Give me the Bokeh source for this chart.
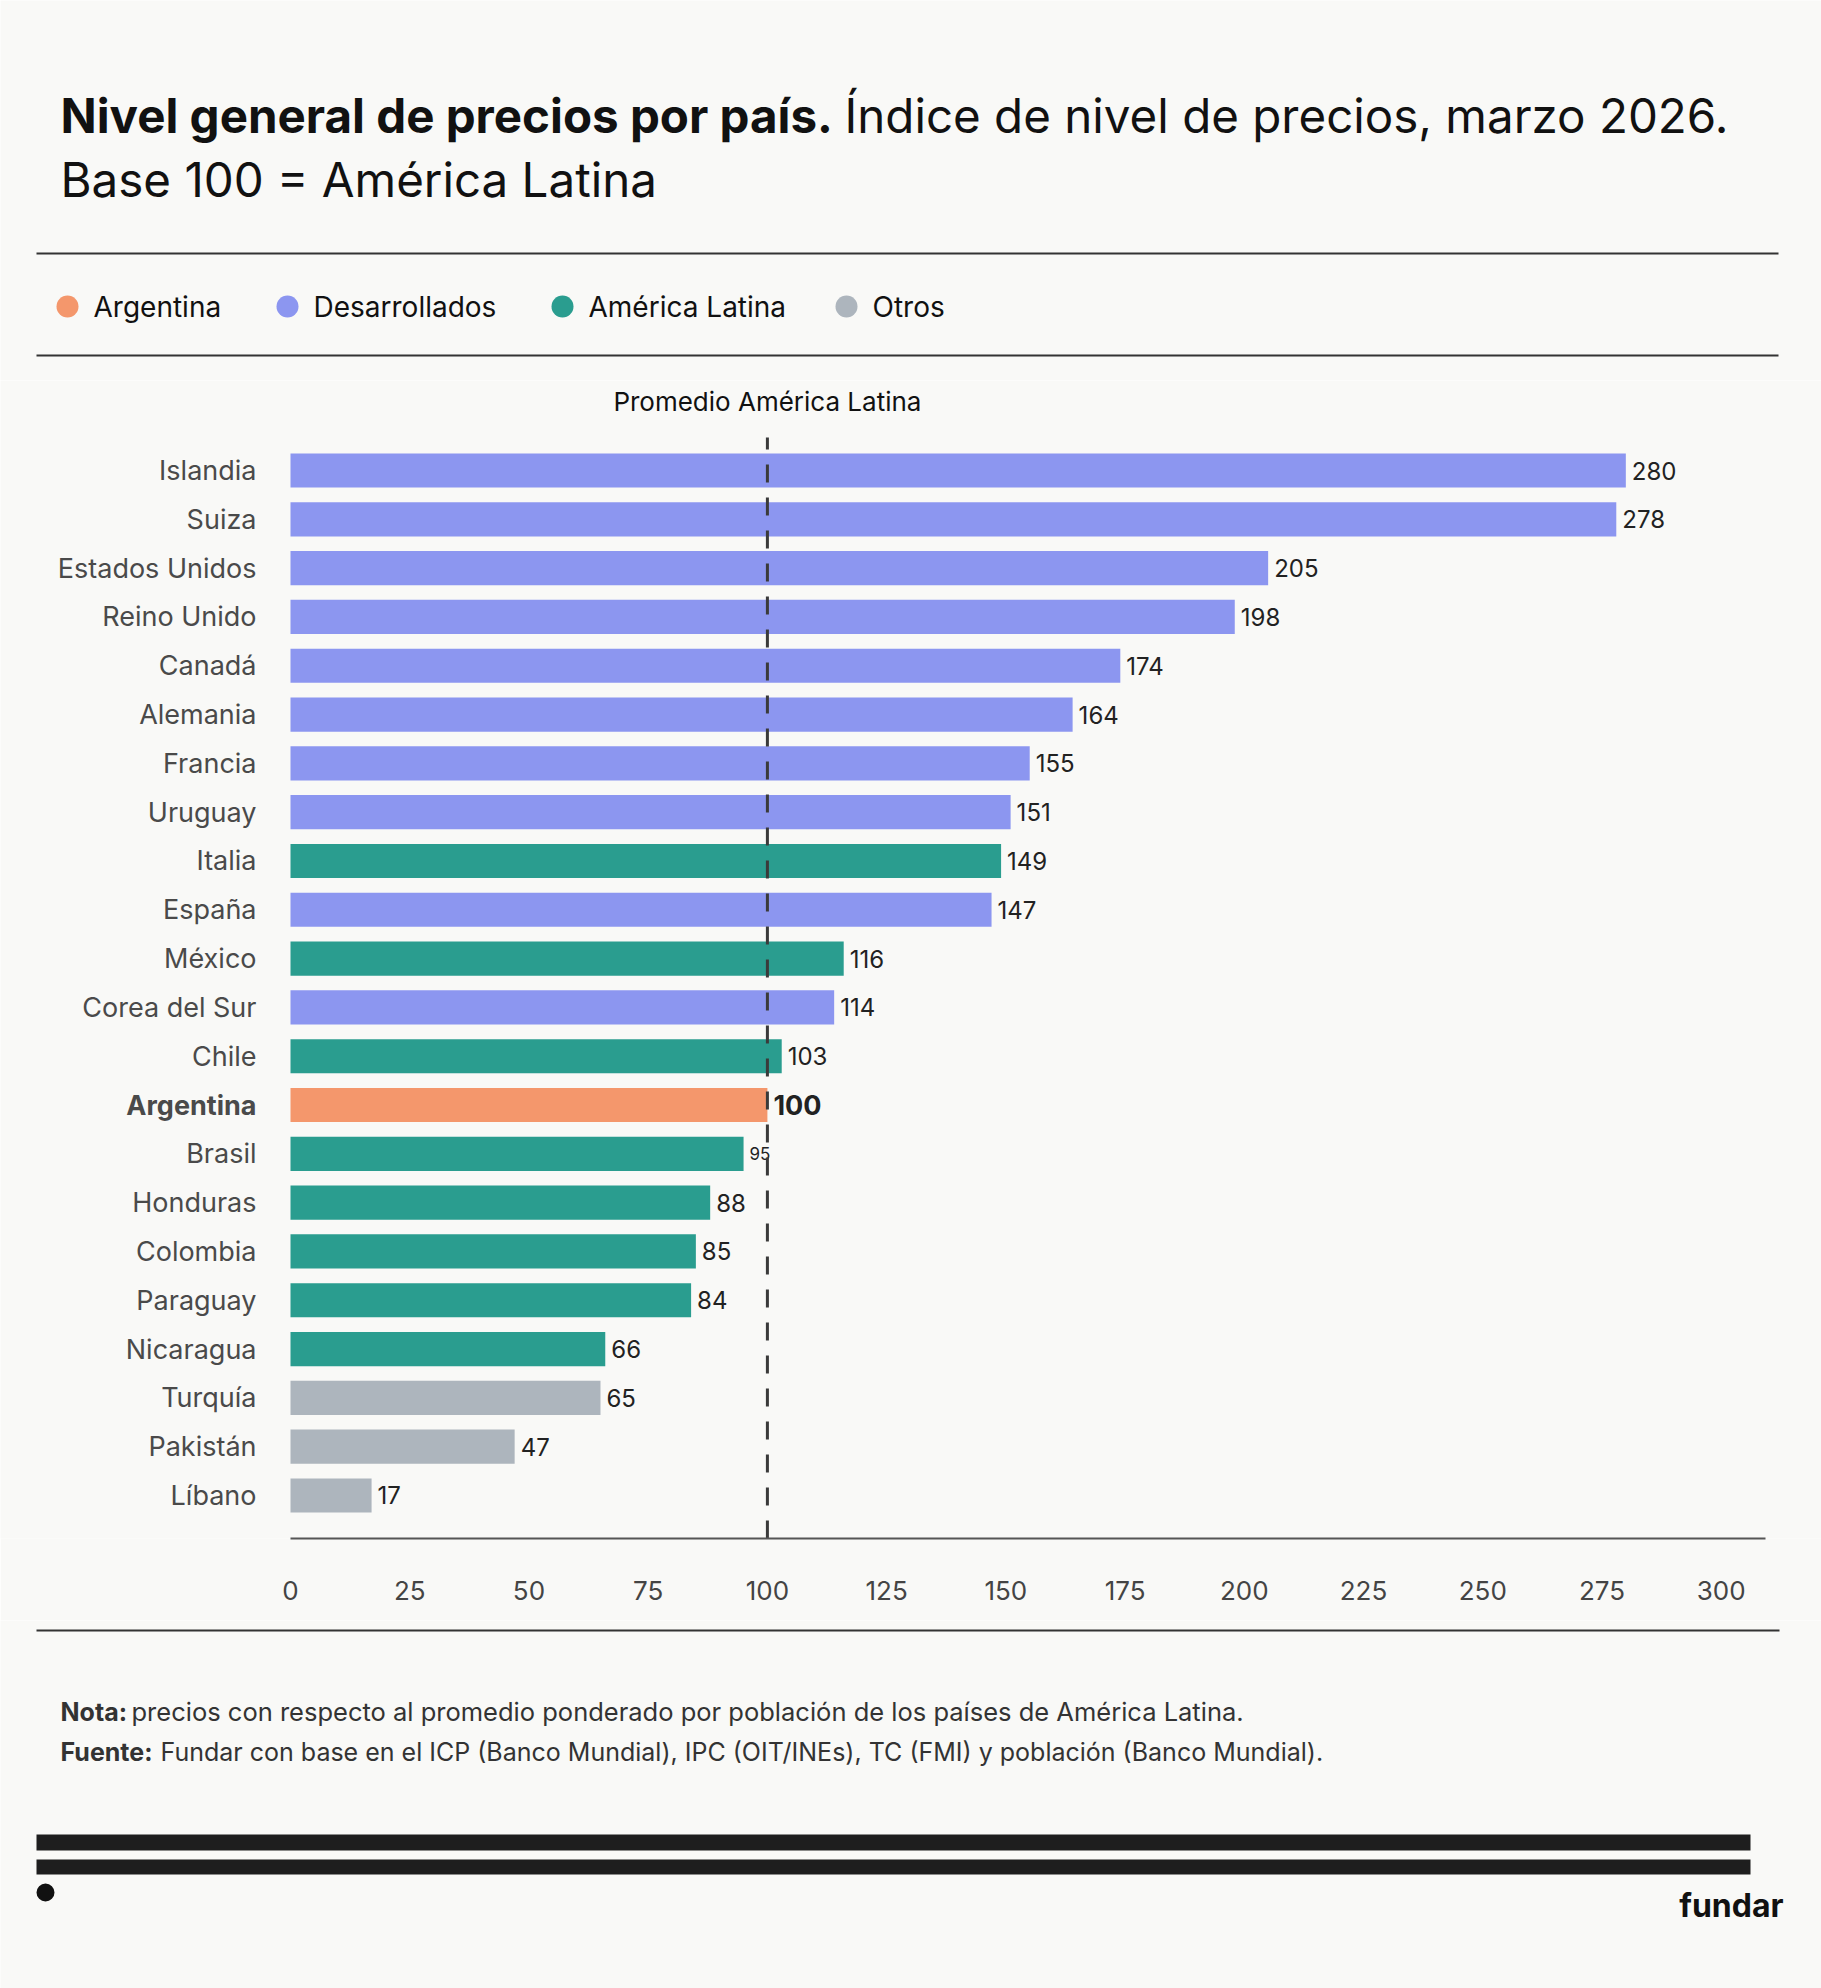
from bokeh.plotting import figure
from bokeh.layouts import column
from bokeh.models import Range1d, FixedTicker
from bokeh.embed import file_html
from bokeh.resources import INLINE
from bokeh.core.properties import value

BG = "#F9F9F7"
FONT = "Inter"
W = 1821

# ---------------- data ----------------
countries = ["Islandia", "Suiza", "Estados Unidos", "Reino Unido", "Canadá", "Alemania",
             "Francia", "Uruguay", "Italia", "España", "México", "Corea del Sur", "Chile",
             "Argentina", "Brasil", "Honduras", "Colombia", "Paraguay", "Nicaragua",
             "Turquía", "Pakistán", "Líbano"]
values = [280, 278, 205, 198, 174, 164, 155, 151, 149, 147, 116, 114, 103, 100,
          95, 88, 85, 84, 66, 65, 47, 17]
groups = ["Desarrollados", "Desarrollados", "Desarrollados", "Desarrollados", "Desarrollados",
          "Desarrollados", "Desarrollados", "Desarrollados", "América Latina", "Desarrollados",
          "América Latina", "Desarrollados", "América Latina", "Argentina", "América Latina",
          "América Latina", "América Latina", "América Latina", "América Latina",
          "Otros", "Otros", "Otros"]
legend_labels = ["Argentina", "Desarrollados", "América Latina", "Otros"]
legend_colors = ["#F4976C", "#8C96F0", "#2A9D8F", "#ADB5BD"]
x_ticks = [0, 25, 50, 75, 100, 125, 150, 175, 200, 225, 250, 275, 300]
reference_value = 100
reference_label = "Promedio América Latina"
title_bold = "Nivel general de precios por país."
title_rest = "Índice de nivel de precios, marzo 2026."
title_line2 = "Base 100 = América Latina"
note_bold = "Nota:"
note_text = "precios con respecto al promedio ponderado por población de los países de América Latina."
source_bold = "Fuente:"
source_text = "Fundar con base en el ICP (Banco Mundial), IPC (OIT/INEs), TC (FMI) y población (Banco Mundial)."
brand = "fundar"

color_of = dict(zip(legend_labels, legend_colors))


def blank(h):
    p = figure(width=W, height=h, x_range=Range1d(0, W), y_range=Range1d(h, 0),
               output_backend="svg", toolbar_location=None,
               x_axis_location=None, y_axis_location=None, min_border=0,
               background_fill_color=BG, border_fill_color=BG, outline_line_color=None)
    p.xgrid.visible = False
    p.ygrid.visible = False
    return p


def txt(p, x, y, s, size, color="#111111", style="normal", align="left"):
    p.text(x=[x], y=[y], text=[s], text_font=value(FONT), text_font_size=size,
           text_font_style=style, text_color=color, text_align=align, text_baseline="middle")


# ---------------- header ----------------
H1 = 380
head = blank(H1)
txt(head, 60, 115, title_bold, "47.5px", style="bold")
txt(head, 844, 115, title_rest, "47.5px")
txt(head, 60, 179, title_line2, "47.5px")
head.segment(x0=[36, 36], y0=[253, 355], x1=[1778, 1778], y1=[253, 355],
             line_color="#333333", line_width=2)
leg_cx = [67, 287, 562, 846]
head.scatter(x=leg_cx, y=[306] * 4, size=22, marker="circle",
             fill_color=legend_colors, line_color=None)
head.text(x=[c + 26 for c in leg_cx], y=[306] * 4, text=legend_labels,
          text_font=value(FONT), text_font_size="28px", text_color="#111111",
          text_align="left", text_baseline="middle")

# ---------------- chart ----------------
H2 = 1240
n = len(countries)
ypos = [n - 1 - i for i in range(n)]
colors = [color_of[g] for g in groups]

x_lo, x_hi = -60.81, 321.03   # value 0 lands 290 px from the left edge
chart = figure(width=W, height=H2, x_range=Range1d(x_lo, x_hi), y_range=Range1d(-0.881, 22.844),
               output_backend="svg", toolbar_location=None, y_axis_location=None,
               min_border_left=0, min_border_right=0, min_border_top=0, min_border_bottom=82,
               background_fill_color=BG, border_fill_color=BG, outline_line_color=None)
chart.xgrid.visible = False
chart.ygrid.visible = False

chart.hbar(y=ypos, right=values, left=0, height=0.70, fill_color=colors, line_color=None)

# category labels
cat_styles = ["bold" if c == "Argentina" else "normal" for c in countries]
chart.text(x=[0] * n, y=ypos, text=countries, x_offset=-34,
           text_font=value(FONT), text_font_size="27px", text_font_style=cat_styles,
           text_color="#4A4A4A", text_align="right", text_baseline="middle")

# value labels
lab_sizes = []
lab_styles = []
for c in countries:
    if c == "Argentina":
        lab_sizes.append("27px"); lab_styles.append("bold")
    elif c == "Brasil":
        lab_sizes.append("17px"); lab_styles.append("normal")
    else:
        lab_sizes.append("24px"); lab_styles.append("normal")
chart.text(x=values, y=ypos, text=[str(v) for v in values], x_offset=6,
           text_font=value(FONT), text_font_size=lab_sizes, text_font_style=lab_styles,
           text_color="#222222", text_align="left", text_baseline="middle")

# reference line
chart.segment(x0=[reference_value], y0=[-0.881], x1=[reference_value], y1=[21.676],
              line_color="#3A3A3A", line_width=3, line_dash="18 15")
chart.text(x=[reference_value], y=[22.41], text=[reference_label], text_font=value(FONT),
           text_font_size="26px", text_color="#111111", text_align="center",
           text_baseline="middle")

# x axis
chart.xaxis.ticker = FixedTicker(ticks=x_ticks)
chart.xaxis.bounds = (0, 309.3)
chart.xaxis.axis_line_color = "#555555"
chart.xaxis.axis_line_width = 2
chart.xaxis.major_tick_line_color = None
chart.xaxis.minor_tick_line_color = None
chart.xaxis.major_label_standoff = 36
chart.xaxis.major_label_text_font = FONT
chart.xaxis.major_label_text_font_size = "26px"
chart.xaxis.major_label_text_color = "#444444"

# ---------------- footer ----------------
H3 = 368
foot = blank(H3)
foot.segment(x0=[36], y0=[10], x1=[1779], y1=[10], line_color="#333333", line_width=2)
txt(foot, 60, 91, note_bold, "25px", color="#333333", style="bold")
txt(foot, 131, 91, note_text, "25.5px", color="#333333")
txt(foot, 60, 131, source_bold, "25px", color="#333333", style="bold")
txt(foot, 160, 131, source_text, "25px", color="#333333")
foot.quad(left=[36, 36], right=[1750, 1750], top=[214, 239], bottom=[230, 254],
          fill_color="#1E1E1E", line_color=None)
foot.scatter(x=[45], y=[272], size=18, marker="circle", fill_color="#111111", line_color=None)
txt(foot, 1783, 285, brand, "32px", style="bold", align="right")

layout = column(head, chart, foot, spacing=0)
open("out.html", "w").write(file_html(layout, INLINE))
